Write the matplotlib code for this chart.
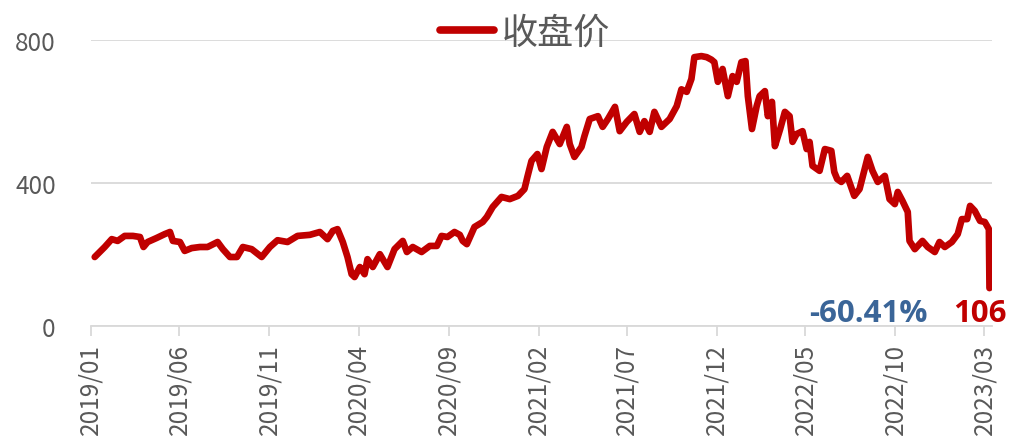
import matplotlib
matplotlib.use("Agg")
import matplotlib.pyplot as plt
from matplotlib.lines import Line2D
import pandas as pd

plt.rcParams["font.family"] = ["Noto Sans CJK SC", "DejaVu Sans"]

# closing price
dates = [
    "2019-01-08", "2019-01-25", "2019-02-06", "2019-02-16", "2019-02-28", "2019-03-14",
    "2019-03-26", "2019-04-01", "2019-04-08", "2019-04-23", "2019-05-07", "2019-05-16",
    "2019-05-21", "2019-06-02", "2019-06-10", "2019-06-22", "2019-07-06", "2019-07-19",
    "2019-08-05", "2019-08-14", "2019-08-26", "2019-09-07", "2019-09-17", "2019-10-02",
    "2019-10-19", "2019-11-02", "2019-11-15", "2019-12-02", "2019-12-19", "2020-01-09",
    "2020-01-26", "2020-02-08", "2020-02-17", "2020-02-25", "2020-03-05", "2020-03-13",
    "2020-03-20", "2020-03-25", "2020-04-03", "2020-04-11", "2020-04-16", "2020-04-25",
    "2020-05-07", "2020-05-20", "2020-06-01", "2020-06-15", "2020-06-22", "2020-07-02",
    "2020-07-17", "2020-07-31", "2020-08-12", "2020-08-20", "2020-08-30", "2020-09-11",
    "2020-09-20", "2020-09-25", "2020-10-02", "2020-10-15", "2020-10-29", "2020-11-05",
    "2020-11-15", "2020-11-30", "2020-12-14", "2020-12-28", "2021-01-08", "2021-01-13",
    "2021-01-20", "2021-01-30", "2021-02-06", "2021-02-15", "2021-02-25", "2021-03-09",
    "2021-03-21", "2021-03-26", "2021-04-03", "2021-04-15", "2021-04-20", "2021-04-29",
    "2021-05-13", "2021-05-21", "2021-05-30", "2021-06-11", "2021-06-19", "2021-07-01",
    "2021-07-14", "2021-07-23", "2021-07-31", "2021-08-09", "2021-08-17", "2021-08-29",
    "2021-09-12", "2021-09-24", "2021-10-02", "2021-10-11", "2021-10-19", "2021-10-24",
    "2021-11-05", "2021-11-14", "2021-11-22", "2021-11-27", "2021-12-03", "2021-12-11",
    "2021-12-20", "2021-12-28", "2022-01-04", "2022-01-12", "2022-01-19", "2022-01-23",
    "2022-01-30", "2022-02-07", "2022-02-12", "2022-02-21", "2022-02-26", "2022-03-05",
    "2022-03-10", "2022-03-19", "2022-03-27", "2022-04-04", "2022-04-09", "2022-04-16",
    "2022-04-26", "2022-05-03", "2022-05-08", "2022-05-13", "2022-05-25", "2022-06-03",
    "2022-06-14", "2022-06-19", "2022-06-24", "2022-07-01", "2022-07-11", "2022-07-23",
    "2022-08-01", "2022-08-15", "2022-08-23", "2022-09-01", "2022-09-13", "2022-09-21",
    "2022-09-30", "2022-10-05", "2022-10-13", "2022-10-22", "2022-10-25", "2022-11-03",
    "2022-11-16", "2022-11-25", "2022-12-07", "2022-12-15", "2022-12-24", "2023-01-05",
    "2023-01-15", "2023-01-22", "2023-01-31", "2023-02-05", "2023-02-13", "2023-02-22",
    "2023-03-02", "2023-03-09", "2023-03-10",
]
closes = [
    193, 221, 243, 238, 252, 252,
    249, 221, 235, 246, 257, 263,
    238, 235, 210, 218, 221, 221,
    235, 215, 193, 193, 221, 215,
    193, 221, 240, 235, 252, 255,
    263, 243, 266, 271, 235, 193,
    145, 137, 165, 145, 187, 165,
    201, 165, 215, 238, 207, 221,
    207, 224, 224, 252, 249, 263,
    255, 238, 229, 277, 291, 305,
    333, 361, 355, 364, 383, 417,
    462, 481, 439, 501, 543, 509,
    557, 509, 473, 501, 531, 579,
    587, 557, 579, 613, 545, 571,
    593, 543, 573, 543, 599, 557,
    579, 615, 662, 655, 691, 752,
    755, 752, 745, 738, 683, 719,
    643, 699, 683, 738, 741, 643,
    551, 615, 643, 657, 587, 627,
    503, 551, 599, 587, 515, 537,
    545, 495, 515, 448, 434, 495,
    490, 431, 411, 403, 420, 364,
    383, 473, 434, 403, 420, 355,
    341, 375, 350, 319, 238, 215,
    238, 221, 207, 235, 221, 235,
    257, 299, 299, 336, 322, 294,
    291, 271, 106,
]
tick_labels = ["2019/01", "2019/06", "2019/11", "2020/04", "2020/09", "2021/02",
               "2021/07", "2021/12", "2022/05", "2022/10", "2023/03"]
y_ticks = [0, 400, 800]
series_name = "收盘价"
change_label = "-60.41%"

RED = "#C00000"
BLUE = "#3A6598"
GREY_TEXT = "#595959"
GREY_LINE = "#D9D9D9"

x = pd.to_datetime(dates)
ticks = pd.to_datetime(tick_labels, format="%Y/%m")

fig = plt.figure(figsize=(10.10, 4.39), dpi=100)
ax = fig.add_axes([0.0897, 0.2551, 0.8923, 0.6515])

ax.plot(x, closes, color=RED, lw=4.8, solid_joinstyle="round", solid_capstyle="round",
        zorder=3)

ax.set_ylim(0, 800)
ax.set_yticks(y_ticks)
ax.set_xlim(pd.Timestamp("2019-01-01"), pd.Timestamp("2023-03-14"))
ax.set_xticks(ticks)
ax.set_xticklabels(tick_labels, rotation=90)
ax.xaxis.set_minor_locator(plt.NullLocator())

ax.grid(axis="y", color=GREY_LINE, lw=1.3)
ax.set_axisbelow(True)
for side in ("top", "right", "left"):
    ax.spines[side].set_visible(False)
ax.spines["bottom"].set_color(GREY_LINE)
ax.spines["bottom"].set_linewidth(1.3)
ax.tick_params(axis="x", colors=GREY_LINE, length=7, width=1.3, pad=5,
               labelcolor=GREY_TEXT, labelsize=17.5)
ax.tick_params(axis="y", length=0, pad=25, labelcolor=GREY_TEXT, labelsize=17.5)

# end-of-series annotations
ax.text(0.929, 14, change_label, transform=ax.get_yaxis_transform(), ha="right",
        va="baseline", color=BLUE, fontsize=22.5, fontweight="bold",
        family=["Open Sans", "DejaVu Sans"])
ax.text(0.987, 14, f"{closes[-1]:.0f}", transform=ax.get_yaxis_transform(), ha="center",
        va="baseline", color=RED, fontsize=22.5, fontweight="bold",
        family=["Open Sans", "DejaVu Sans"])

handle = Line2D([], [], color=RED, lw=5.5, solid_capstyle="round")
leg = ax.legend([handle], [series_name], loc="center", bbox_to_anchor=(0.482, 1.027),
                frameon=False, fontsize=26, handlelength=1.5, handletextpad=0.2,
                borderaxespad=0)
for t in leg.get_texts():
    t.set_color(GREY_TEXT)

fig.savefig("out.png", dpi=100)
